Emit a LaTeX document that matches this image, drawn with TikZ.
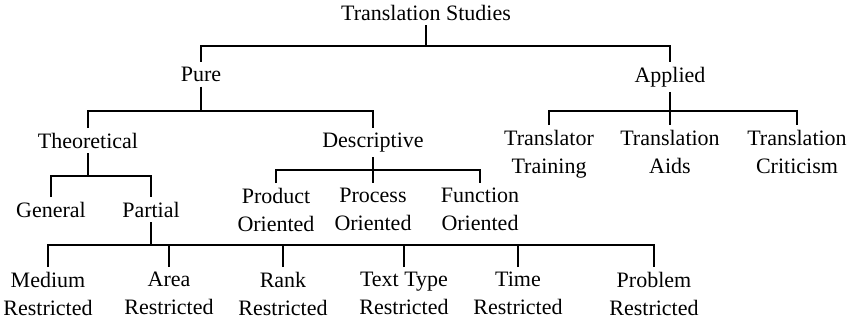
\documentclass[tikz,border=0pt]{standalone}
\usepackage{fontspec}
\setmainfont{Liberation Serif}
\usepackage{tikz}

\begin{document}
\begin{tikzpicture}[x=1pt,y=-1pt,line width=2pt,
  lbl/.style={anchor=north,align=center,inner sep=4pt,font=\fontsize{22}{28}\selectfont}]
  \useasboundingbox (0,0) rectangle (850,326);
  % top levels
  \node[lbl] (ts) at (426,0) {Translation Studies};
  \node[lbl] (pure) at (201,62) {Pure};
  \node[lbl] (applied) at (670,62) {Applied};
  \node[lbl] (theo) at (88,128) {Theoretical};
  \node[lbl] (desc) at (373,128) {Descriptive};
  \node[lbl] (translator) at (549,125) {Translator\\Training};
  \node[lbl] (aids) at (670,125) {Translation\\Aids};
  \node[lbl] (criticism) at (797,125) {Translation\\Criticism};
  \node[lbl] (general) at (51,197) {General};
  \node[lbl] (partial) at (151,197) {Partial};
  \node[lbl] (product) at (276,183) {Product\\Oriented};
  \node[lbl] (process) at (373,183) {Process\\Oriented};
  \node[lbl] (function) at (480,183) {Function\\Oriented};
  % restricted row
  \node[lbl] (medium) at (48,267) {Medium\\Restricted};
  \node[lbl] (area) at (169,267) {Area\\Restricted};
  \node[lbl] (rank) at (283,267) {Rank\\Restricted};
  \node[lbl] (texttype) at (404,267) {Text Type\\Restricted};
  \node[lbl] (time) at (518,267) {Time\\Restricted};
  \node[lbl] (problem) at (654,267) {Problem\\Restricted};

  \draw (pure.north) -- ++(0,-16) coordinate (tsbar) -| (applied.north);
  \draw (ts.south) -- (ts.south |- tsbar);
  \draw (theo.north) -- ++(0,-17) coordinate (purebar) -| (desc.north);
  \draw (pure.south) -- (pure.south |- purebar);
  \draw (translator.north) -- ++(0,-14) coordinate (apbar) -| (criticism.north);
  \draw (applied.south) -- (applied.south |- aids.north);
  \draw (general.north) -- ++(0,-21) coordinate (theobar) -| (partial.north);
  \draw (theo.south) -- (theo.south |- theobar);
  \draw (product.north) -- ++(0,-13) coordinate (descbar) -| (function.north);
  \draw (desc.south) -- (desc.south |- process.north);
  \draw (medium.north) -- ++(0,-22) coordinate (partbar) -| (problem.north);
  \draw (partial.south) -- (partial.south |- partbar);
  \foreach \n in {area,rank,texttype,time}
    \draw (\n.north) -- (\n.north |- partbar);
\end{tikzpicture}
\end{document}
